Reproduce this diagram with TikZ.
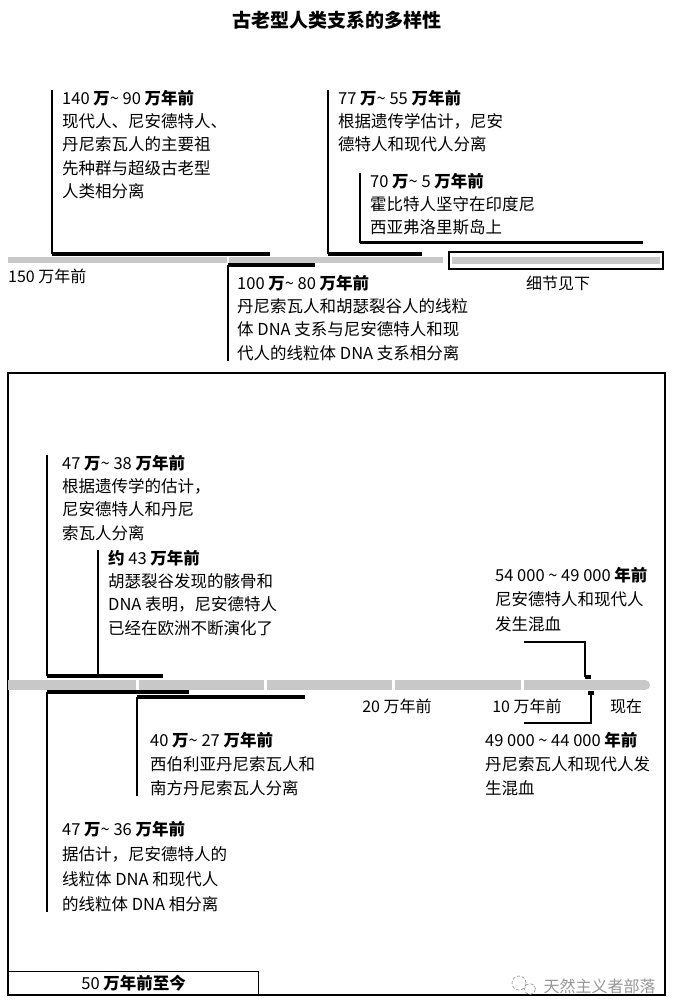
\documentclass[tikz,border=0pt]{standalone}
\usepackage{fontspec}
\setmainfont{Noto Sans CJK SC}
\usetikzlibrary{positioning}
\definecolor{bargray}{RGB}{200,200,200}
\definecolor{markgray}{RGB}{150,150,150}
\tikzset{
  axis/.style={line width=#1,draw=bargray},
  axis/.default=6pt,
  span/.style={line width=#1,draw=black},
  span/.default=4pt,
  lead/.style={line width=1.3pt,draw=black},
  note/.style={anchor=north west,inner sep=0pt,align=left,
    font=\fontsize{16.5}{#1}\selectfont},
  note/.default=23.3,
  tick/.style={inner sep=0pt,font=\fontsize{16}{20}\selectfont},
}
\newcommand\yr[1]{\textbf{#1}}
\newcommand\rng{\textasciitilde\ }

\begin{document}
\begin{tikzpicture}[x=1pt,y=-1pt]
  \useasboundingbox (0,0) rectangle (674,1006);
  \node[font=\fontsize{19}{22}\selectfont\bfseries] (title) at (337,20) {古老型人类支系的多样性};

  % upper time line, 150 to 0
  \draw[axis] (8,259.5) -- (227,259.5);
  \draw[axis] (229,259.5) -- (443,259.5);
  \node[draw,line width=2pt,inner sep=0pt,minimum width=214pt,minimum height=16.5pt] (detail) at (556,260.5) {};
  \draw[axis=7pt] ([xshift=4pt]detail.west) -- ([xshift=-4pt]detail.east);
  \node[tick,anchor=west] (l150) at (8,276) {150 万年前};
  \node[tick] (ldet) at (558,283) {细节见下};

  \node[note] (n140) at (62,90) {140 \yr{万}\rng 90 \yr{万年前}\\现代人、尼安德特人、\\丹尼索瓦人的主要祖\\先种群与超级古老型\\人类相分离};
  \node[note] (n100) at (237,275) {100 \yr{万}\rng 80 \yr{万年前}\\丹尼索瓦人和胡瑟裂谷人的线粒\\体 DNA 支系与尼安德特人和现\\代人的线粒体 DNA 支系相分离};
  \node[note] (n77) at (338,90) {77 \yr{万}\rng 55 \yr{万年前}\\根据遗传学估计，尼安\\德特人和现代人分离};
  \node[note] (n70) at (370,173) {70 \yr{万}\rng 5 \yr{万年前}\\霍比特人坚守在印度尼\\西亚弗洛里斯岛上};

  \coordinate (a140) at (52,253.5);
  \coordinate (a90) at (270,253.5);
  \coordinate (a100) at (228,265);
  \coordinate (a80) at (315,265);
  \coordinate (a77) at (328,253.5);
  \coordinate (a55) at (422,253.5);
  \coordinate (a70) at (360,242.5);
  \coordinate (a5) at (643,242.5);
  \draw[lead] (a140 |- n140.north) -- (a140);
  \draw[lead] (a100) -- (a100 |- n100.south);
  \draw[lead] (a77 |- n77.north) -- (a77);
  \draw[lead] (a70 |- n70.north) -- (a70);
  \draw[span] (a140) -- (a90);
  \draw[span] (a100) -- (a80);
  \draw[span] (a77) -- (a55);
  \draw[span=3pt] (a70) -- (a5);

  % lower panel, 50 to now
  \draw[line width=1.2pt] (8,373) rectangle (665,995);
  \node[draw,line width=1.2pt,anchor=south west,inner sep=0pt,minimum width=250pt,minimum height=23pt,
    font=\fontsize{16.5}{20}\selectfont] (era) at (8,995) {50 \yr{万年前至今}};
  \foreach \a/\b in {8/136,139/264,267/392,395/521}
    \draw[axis=10pt] (\a,685) -- (\b,685);
  \draw[axis=10pt] (524,685) -- (620,685);
  \draw[axis=10pt,line cap=round] (600,685) -- (645,685);
  \node[tick] (l20) at (397,706) {20 万年前};
  \node[tick] (l10) at (527,706) {10 万年前};
  \node[tick] (lnow) at (626,706) {现在};

  \node[note] (n47) at (62,455) {47 \yr{万}\rng 38 \yr{万年前}\\根据遗传学的估计，\\尼安德特人和丹尼\\索瓦人分离};
  \node[note] (n43) at (108,550) {\yr{约} 43 \yr{万年前}\\胡瑟裂谷发现的骸骨和\\DNA 表明，尼安德特人\\已经在欧洲不断演化了};
  \node[note=24.5] (n54) at (495,567) {54 000 \rng 49 000 \yr{年前}\\尼安德特人和现代人\\发生混血};
  \node[note=24] (n49) at (485,732) {49 000 \rng 44 000 \yr{年前}\\丹尼索瓦人和现代人发\\生混血};
  \node[note=24] (n40) at (150,732) {40 \yr{万}\rng 27 \yr{万年前}\\西伯利亚丹尼索瓦人和\\南方丹尼索瓦人分离};
  \node[note=25] (n36) at (62,821) {47 \yr{万}\rng 36 \yr{万年前}\\据估计，尼安德特人的\\线粒体 DNA 和现代人\\的线粒体 DNA 相分离};

  \coordinate (b47) at (47,676);
  \coordinate (b38) at (163,676);
  \coordinate (b43) at (98,676);
  \coordinate (c47) at (47,692);
  \coordinate (c36) at (189,692);
  \coordinate (c40) at (137,697);
  \coordinate (c27) at (305,697);
  \draw[lead] (b47 |- n47.north) -- (b47);
  \draw[lead] (b43 |- n43.north) -- (b43);
  \draw[lead] (c47) -- (c47 |- n36.south);
  \draw[lead] (c40) -- (c40 |- n40.south);
  \draw[span] (b47) -- (b38);
  \draw[span] (c47) -- (c36);
  \draw[span] (c40) -- (c27);

  % admixture leaders
  \coordinate (m54) at (585,677);
  \coordinate (k54) at (524,642);
  \coordinate (m49) at (591,693);
  \coordinate (k49) at (524,723);
  \draw[lead] (k54) -| (m54);
  \draw[lead] (m49) |- (k49);
  \fill (585,675) rectangle (591,679);
  \fill (588,691) rectangle (594,695);

  % mark
  \draw[markgray,densely dashed,line width=0.7pt] (519,983) circle (7pt) (530,989) circle (5.5pt);
  \node[anchor=west,text=markgray,font=\fontsize{16}{20}\selectfont] (mark) at (540,986) {天然主义者部落};
\end{tikzpicture}
\end{document}
